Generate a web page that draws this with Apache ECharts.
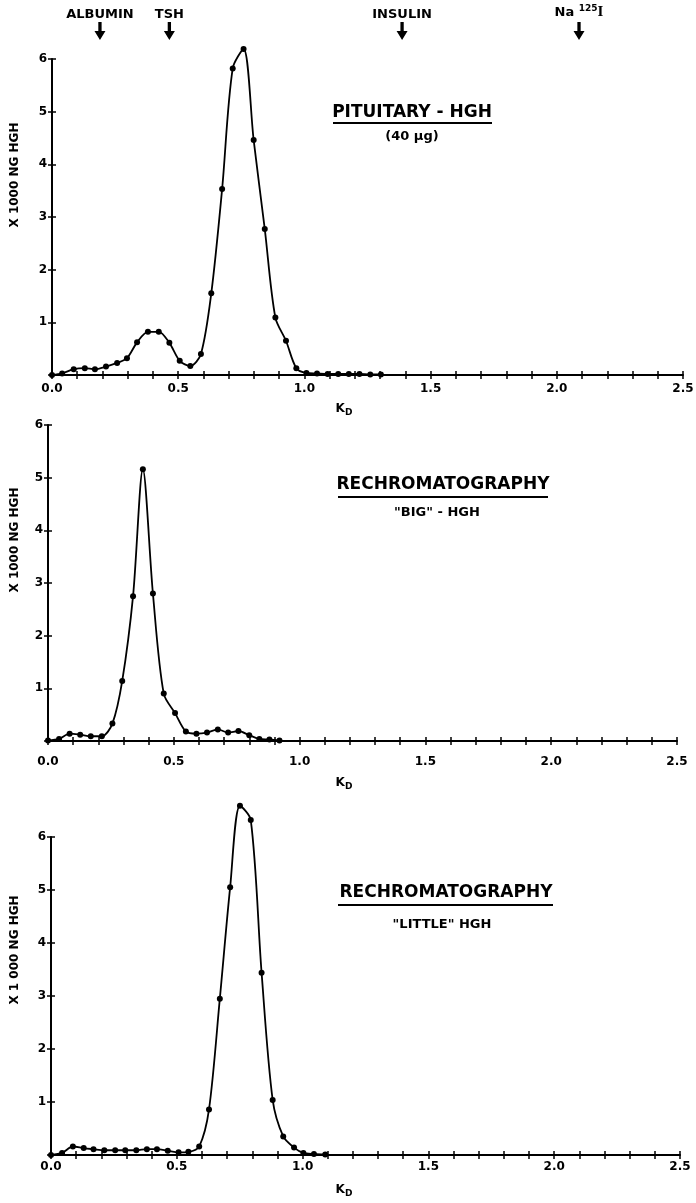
<!DOCTYPE html>
<html>
<head>
<meta charset="utf-8">
<script src="https://cdn.jsdelivr.net/npm/echarts@6/dist/echarts.min.js"></script>
<style>
html,body{margin:0;padding:0;background:#fff;}
#chart{width:696px;height:1203px;}
</style>
</head>
<body>
<div id="chart"></div>
<script>
// ---------- data ----------
const xTicks = [0.0, 0.5, 1.0, 1.5, 2.0, 2.5];
const yTicks = [1, 2, 3, 4, 5, 6];

const markerNames = ['ALBUMIN', 'TSH', 'INSULIN', 'Na125I'];
const markerKd = [0.19, 0.465, 1.387, 2.088];

const p1Kd  = [0, 0.04, 0.086, 0.13, 0.17, 0.214, 0.258, 0.297, 0.337, 0.38, 0.423, 0.465, 0.506, 0.548, 0.59, 0.631, 0.674, 0.716, 0.759, 0.799, 0.843, 0.885, 0.927, 0.968, 1.008, 1.05, 1.092, 1.134, 1.176, 1.218, 1.261, 1.303];
const p1Val = [0, 0.03, 0.11, 0.13, 0.11, 0.16, 0.23, 0.32, 0.62, 0.82, 0.82, 0.61, 0.27, 0.17, 0.40, 1.55, 3.53, 5.82, 6.19, 4.46, 2.77, 1.09, 0.65, 0.13, 0.04, 0.03, 0.02, 0.02, 0.02, 0.02, 0.01, 0.01];

const p2Kd  = [0, 0.044, 0.086, 0.128, 0.17, 0.214, 0.256, 0.295, 0.338, 0.377, 0.417, 0.46, 0.505, 0.548, 0.59, 0.632, 0.675, 0.716, 0.757, 0.8, 0.84, 0.88, 0.92];
const p2Val = [0.01, 0.04, 0.14, 0.12, 0.09, 0.09, 0.33, 1.14, 2.75, 5.16, 2.80, 0.90, 0.53, 0.18, 0.14, 0.16, 0.22, 0.16, 0.19, 0.11, 0.04, 0.03, 0.01];

const p3Kd  = [0, 0.044, 0.087, 0.13, 0.169, 0.212, 0.255, 0.295, 0.339, 0.381, 0.421, 0.464, 0.507, 0.546, 0.589, 0.628, 0.671, 0.712, 0.751, 0.794, 0.837, 0.881, 0.923, 0.966, 1.003, 1.045, 1.09];
const p3Val = [0, 0.04, 0.16, 0.13, 0.11, 0.09, 0.09, 0.09, 0.09, 0.11, 0.11, 0.08, 0.05, 0.06, 0.16, 0.86, 2.95, 5.05, 6.59, 6.32, 3.44, 1.04, 0.35, 0.14, 0.04, 0.02, 0.01];

const panelTitles = ['PITUITARY - HGH', 'RECHROMATOGRAPHY', 'RECHROMATOGRAPHY'];
const panelSubtitles = ['(40 \u00b5g)', '"BIG" - HGH', '"LITTLE" HGH'];
const yNames = ['X 1000 NG HGH', 'X 1000 NG HGH', 'X 1 000 NG HGH'];

// ---------- layout ----------
const FONT = '"DejaVu Sans", "Liberation Sans", sans-serif';
const INK = '#000';
const grids = [
  {left: 52, top: 59, width: 631, height: 316, labelMargin: 8},
  {left: 48, top: 425, width: 629, height: 316, labelMargin: 15},
  {left: 51, top: 837, width: 629, height: 318, labelMargin: 6}
];

function isTick(v, arr) {
  return arr.some(t => Math.abs(t - v) < 1e-6);
}

const xAxis = [], yAxis = [], series = [];
grids.forEach((g, i) => {
  xAxis.push({
    type: 'value', gridIndex: i, min: 0, max: 2.5, interval: 0.1,
    axisLine: {show: true, lineStyle: {color: INK, width: 2}},
    axisTick: {show: true, inside: false, length: 4, lineStyle: {color: INK, width: 1.5}},
    splitLine: {show: false},
    axisLabel: {
      show: true, margin: g.labelMargin, color: INK,
      fontFamily: FONT, fontWeight: 'bold', fontSize: 12,
      formatter: v => isTick(v, xTicks) ? v.toFixed(1) : ''
    }
  });
  xAxis.push({
    type: 'value', gridIndex: i, min: 0, max: 2.5, interval: 0.1, position: 'bottom',
    axisLine: {show: false}, axisLabel: {show: false}, splitLine: {show: false},
    axisTick: {show: true, inside: true, length: 4, lineStyle: {color: INK, width: 1.5}}
  });
  yAxis.push({
    type: 'value', gridIndex: i, min: 0, max: 6, interval: 1,
    axisLine: {show: true, lineStyle: {color: INK, width: 2}},
    axisTick: {show: true, inside: false, length: 4, lineStyle: {color: INK, width: 1.5}},
    splitLine: {show: false},
    axisLabel: {
      show: true, margin: 5, color: INK,
      fontFamily: FONT, fontWeight: 'bold', fontSize: 12,
      formatter: v => isTick(v, yTicks) ? String(v) : ''
    }
  });
  yAxis.push({
    type: 'value', gridIndex: i, min: 0, max: 6, interval: 1, position: 'left',
    axisLine: {show: false}, axisLabel: {show: false}, splitLine: {show: false},
    axisTick: {show: true, inside: true, length: 4, lineStyle: {color: INK, width: 1.5}}
  });
});

const panelData = [[p1Kd, p1Val], [p2Kd, p2Val], [p3Kd, p3Val]];
panelData.forEach((pd, i) => {
  series.push({
    type: 'line', xAxisIndex: 2 * i, yAxisIndex: 2 * i,
    data: pd[0].map((k, j) => [k, pd[1][j]]),
    smooth: 0.3, clip: false,
    symbol: 'circle', symbolSize: 6, showSymbol: true,
    lineStyle: {color: INK, width: 1.8},
    itemStyle: {color: INK, opacity: 1},
    animation: false, silent: true, z: 5
  });
});

// markers (arrows) above panel 1
const markerY = 6.53;
series.push({
  type: 'scatter', xAxisIndex: 0, yAxisIndex: 0, clip: false,
  data: markerKd.map((k, i) => ({value: [k, markerY], name: markerNames[i]})),
  symbol: 'path://M3.5,0 L6.5,0 L6.5,9 L10,9 L5,18 L0,9 L3.5,9 Z',
  symbolSize: [11, 18],
  itemStyle: {color: INK, opacity: 1},
  label: {
    show: true, position: 'top', distance: 1, color: INK,
    fontFamily: FONT, fontWeight: 'bold', fontSize: 13,
    formatter: p => p.name === 'Na125I' ? 'Na {sup|125}{i|I}' : p.name,
    rich: {
      sup: {fontSize: 9, fontWeight: 'bold', fontFamily: FONT, color: INK, verticalAlign: 'top', padding: [0, 0, 8, 0]},
      i: {fontSize: 15, fontFamily: '"Liberation Serif", serif', color: INK, fontWeight: 'bold'}
    }
  },
  animation: false, silent: true
});

// ---------- annotations ----------
const graphic = [];
const titlePos = [
  {x: 412, y: 113, uy: 123, ux1: 333, ux2: 492, sy: 137, sx: 412},
  {x: 443, y: 485, uy: 497, ux1: 338, ux2: 548, sy: 513, sx: 437},
  {x: 446, y: 893, uy: 905, ux1: 338, ux2: 553, sy: 925, sx: 442}
];
titlePos.forEach((t, i) => {
  graphic.push({type: 'text', x: t.x, y: t.y, style: {text: panelTitles[i], textAlign: 'center', textVerticalAlign: 'middle', font: 'bold 17px ' + FONT, fill: INK}});
  graphic.push({type: 'line', shape: {x1: t.ux1, y1: t.uy, x2: t.ux2, y2: t.uy}, style: {stroke: INK, lineWidth: 2}});
  graphic.push({type: 'text', x: t.sx, y: t.sy, style: {text: panelSubtitles[i], textAlign: 'center', textVerticalAlign: 'middle', font: 'bold 13px ' + FONT, fill: INK}});
});
const yNamePos = [175, 540, 950];
yNamePos.forEach((y, i) => {
  graphic.push({type: 'text', x: 15, y: y, rotation: Math.PI / 2, style: {text: yNames[i], textAlign: 'center', textVerticalAlign: 'middle', font: 'bold 12px ' + FONT, fill: INK}});
});
const kdPos = [[344, 409], [344, 783], [344, 1190]];
kdPos.forEach(p => {
  graphic.push({type: 'text', x: p[0], y: p[1], style: {text: 'K{s|D}', rich: {s: {fontSize: 9, fontWeight: 'bold', fontFamily: FONT, fill: INK, padding: [8, 0, 0, 0]}}, textAlign: 'center', textVerticalAlign: 'middle', font: 'bold 12px ' + FONT, fill: INK}});
});

const chart = echarts.init(document.getElementById('chart'), null, {renderer: 'canvas'});
chart.setOption({
  backgroundColor: '#fff',
  animation: false,
  grid: grids.map(g => ({left: g.left, top: g.top, width: g.width, height: g.height, containLabel: false, outerBoundsMode: 'none'})),
  xAxis: xAxis,
  yAxis: yAxis,
  series: series,
  graphic: graphic
});
</script>
</body>
</html>
